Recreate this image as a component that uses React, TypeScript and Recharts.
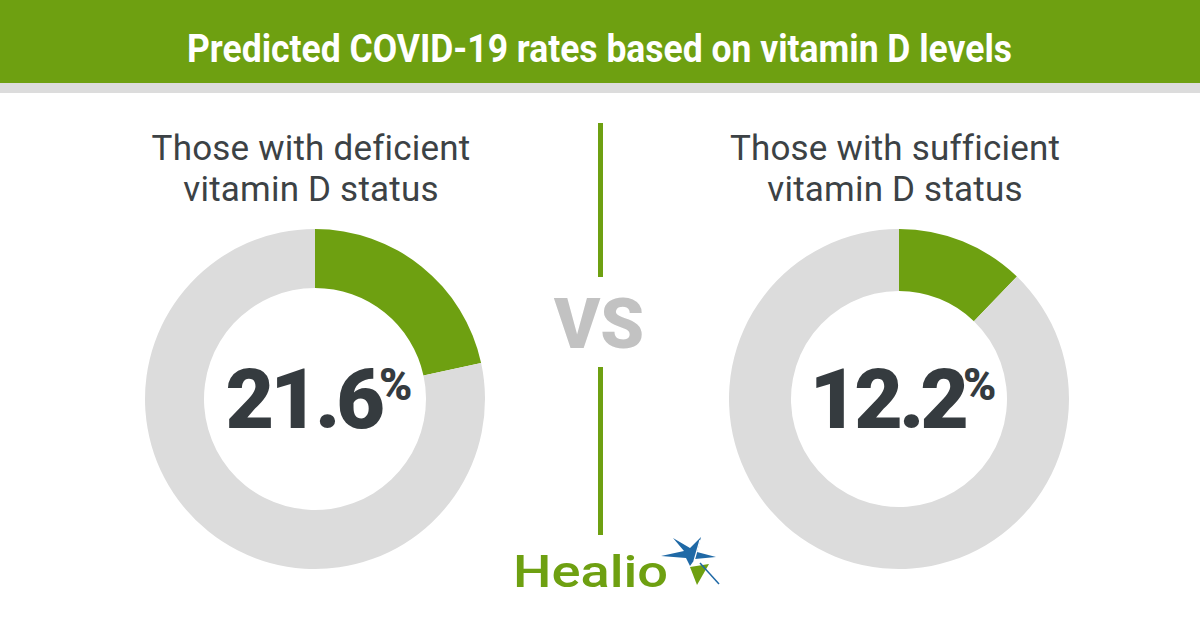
import { PieChart, Pie, Cell } from "recharts";

// Predicted COVID-19 rate (%) per vitamin D group
const GROUP_LINE_1 = ["Those with deficient", "Those with sufficient"];
const GROUP_LINE_2 = ["vitamin D status", "vitamin D status"];
const RATES = [21.6, 12.2];

const GREEN = "#6ea011";
const TRACK = "#dcdcdc";
const DARK = "#353b3f";
const BLUE = "#1f69a6";

const CENTER_X = [315, 899];
const CENTER_Y = 399;

export default function App() {
  return (
    <div
      style={{
        position: "absolute",
        left: 0,
        top: 0,
        width: 1200,
        height: 630,
        background: "#fff",
        overflow: "hidden",
        fontFamily: "Roboto, 'Noto Sans', sans-serif",
      }}
    >
      {/* header band + divider */}
      <svg width={1200} height={630} style={{ position: "absolute", left: 0, top: 0 }}>
        <rect x={0} y={0} width={1200} height={83} fill={GREEN} />
        <rect x={0} y={83} width={1200} height={10} fill="#dcdcdc" />
        <text
          x={187}
          y={62}
          fontSize={38}
          fontWeight={700}
          fill="#fff"
          textLength={825}
          lengthAdjust="spacingAndGlyphs"
          fontFamily="Roboto, sans-serif"
        >
          Predicted COVID-19 rates based on vitamin D levels
        </text>
        <rect x={598} y={123} width={5} height={154} fill={GREEN} />
        <rect x={598} y={367} width={5} height={168} fill={GREEN} />
      </svg>

      <PieChart
        width={1200}
        height={630}
        margin={{ top: 0, right: 0, bottom: 0, left: 0 }}
        style={{ position: "absolute", left: 0, top: 0 }}
      >
        {RATES.map((rate, i) => (
          <Pie
            key={i}
            data={[
              { name: "COVID-19", value: rate },
              { name: "other", value: 100 - rate },
            ]}
            dataKey="value"
            cx={CENTER_X[i]}
            cy={CENTER_Y}
            innerRadius={i === 0 ? 111 : 108}
            outerRadius={170}
            startAngle={90}
            endAngle={-270}
            stroke="none"
            isAnimationActive={false}
          >
            <Cell fill={GREEN} />
            <Cell fill={TRACK} />
          </Pie>
        ))}
      </PieChart>

      {/* two-line group headings */}
      {RATES.map((_, i) => (
        <div
          key={i}
          style={{
            position: "absolute",
            left: CENTER_X[i] - 4 - 220,
            top: 127.5,
            width: 440,
            textAlign: "center",
            fontSize: 35,
            lineHeight: "41px",
            letterSpacing: 0.2,
            color: "#3c4245",
            whiteSpace: "nowrap",
          }}
        >
          {GROUP_LINE_1[i]}
          <br />
          {GROUP_LINE_2[i]}
        </div>
      ))}

      <svg
        width={1200}
        height={630}
        style={{ position: "absolute", left: 0, top: 0, pointerEvents: "none" }}
      >
        {RATES.map((rate, i) => (
          <text
            key={i}
            x={CENTER_X[i] + 4}
            y={428}
            textAnchor="middle"
            fontWeight={900}
            fill={DARK}
          >
            <tspan fontSize={84} letterSpacing={-4}>
              {rate.toFixed(1)}
            </tspan>
            <tspan fontSize={45} dx={-2} dy={-28}>
              %
            </tspan>
          </text>
        ))}

        <text x={599} y={348} textAnchor="middle" fontSize={70} fontWeight={900} fill="#c2c2c2">
          VS
        </text>

        {/* Healio wordmark */}
        <text
          x={513}
          y={587}
          fontSize={44}
          fontWeight={500}
          fill={GREEN}
          textLength={155}
          lengthAdjust="spacingAndGlyphs"
        >
          Healio
        </text>
        <g>
          <polygon
            points="673,538 690,548 701,537 697,552 716,557 695,559 690,566 686,558 661,556 684,551"
            fill={BLUE}
          />
          <polygon points="690,567 709,564 697,585" fill={GREEN} />
          <line x1={694} y1={561} x2={700} y2={540} stroke="#fff" strokeWidth={1.2} />
          <line x1={700} y1={563} x2={719} y2={584} stroke={BLUE} strokeWidth={1.5} />
        </g>
      </svg>
    </div>
  );
}
